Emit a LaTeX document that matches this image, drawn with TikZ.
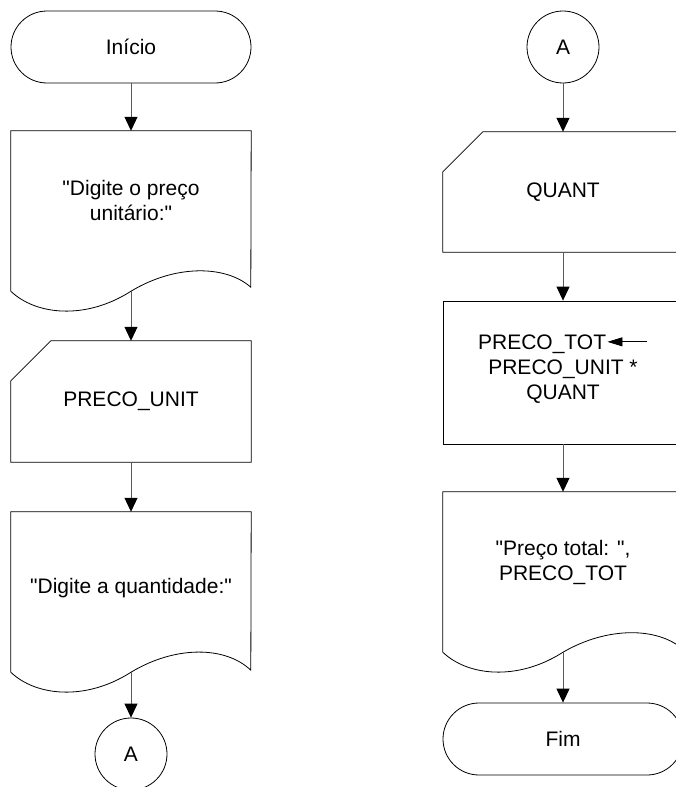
\documentclass[tikz,border=0pt]{standalone}
\usepackage{fontspec}
\setmainfont{Liberation Sans}[Ligatures=TeXOff]
\usetikzlibrary{arrows.meta,calc}
\newcommand\dfont{\fontsize{21}{25}\selectfont}
\begin{document}
\begin{tikzpicture}[x=1pt,y=-1pt,
  shp/.style={draw=black,line width=0.8pt},
  term/.style={shp,rectangle,rounded corners=36pt,minimum width=240pt,minimum height=72pt,inner sep=0pt,font=\dfont},
  conn/.style={shp,circle,minimum size=72pt,inner sep=0pt,font=\dfont},
  box/.style={rectangle,minimum width=240pt,inner sep=0pt,font=\dfont,align=center},
  txt/.style={font=\dfont,align=center,inner sep=0pt},
  flow/.style={draw=black!65,line width=1pt,-{Triangle[length=14pt,width=13pt,color=black]}},
]
\clip (0,0) rectangle (676,787);
\fill[white] (0,0) rectangle (676,787);

% ---------- left column ----------
\node[term] (ini) at (131,47) {Início};

\node[box,minimum height=160pt] (d1) at (131,211) {};
\draw[shp] (d1.south west) -- (d1.north west) -- (d1.north east) -- ($(d1.south west)+(240,-4)$)
  .. controls ($(d1.south west)+(215,-26)$) and ($(d1.south west)+(165,-27)$) .. (d1.south)
  .. controls ($(d1.south west)+(75,29)$) and ($(d1.south west)+(25,24)$) .. (d1.south west) -- cycle;
\node[txt] (t1) at (131,200) {"Digite o preço\\unitário:"};

\node[box,minimum height=121pt] (pu) at (131,401.5) {PRECO\_UNIT};
\draw[shp] ([xshift=40pt]pu.north west) -- (pu.north east) -- (pu.south east) -- (pu.south west) -- ([yshift=-40pt]pu.north west) -- cycle;

\node[box,minimum height=160pt] (d2) at (131,592) {};
\draw[shp] (d2.south west) -- (d2.north west) -- (d2.north east) -- ($(d2.south west)+(240,-2)$)
  .. controls ($(d2.south west)+(215,-26)$) and ($(d2.south west)+(165,-27)$) .. (d2.south)
  .. controls ($(d2.south west)+(75,29)$) and ($(d2.south west)+(25,24)$) .. (d2.south west) -- cycle;
\node[txt] (t2) at (131,588) {"Digite a quantidade:"};

\node[conn] (ca) at (131,754) {A};

\draw[flow] (ini) -- (d1);
\draw[flow] (d1) -- (pu);
\draw[flow] (pu) -- (d2);
\draw[flow] (d2) -- (ca);

% ---------- right column ----------
\node[conn] (cb) at (563,47) {A};

\node[box,minimum height=120pt] (qu) at (563,192) {QUANT};
\draw[shp] ([xshift=40pt]qu.north west) -- (qu.north east) -- (qu.south east) -- (qu.south west) -- ([yshift=-40pt]qu.north west) -- cycle;

\node[box,shp,minimum height=143pt] (pr) at (563,372.5) {};
\node[txt] (t3) at (563,369) {PRECO\_TOT\kern1pt\tikz[baseline]\draw[line width=0.8pt,-{Triangle[length=15pt,width=9pt]}] (40pt,7.5pt) -- (0pt,7.5pt);\\PRECO\_UNIT *\\QUANT};

\node[box,minimum height=160pt] (d3) at (563,572) {};
\draw[shp] (d3.south west) -- (d3.north west) -- (d3.north east) -- ($(d3.south west)+(240,-3)$)
  .. controls ($(d3.south west)+(215,-25)$) and ($(d3.south west)+(165,-26)$) .. (d3.south)
  .. controls ($(d3.south west)+(75,29)$) and ($(d3.south west)+(25,24)$) .. (d3.south west) -- cycle;
\node[txt] (t4) at (563,562) {"Preço total: ",\\PRECO\_TOT};

\node[term] (fim) at (563,739) {Fim};

\draw[flow] (cb) -- (qu);
\draw[flow] (qu) -- (pr);
\draw[flow] (pr) -- (d3);
\draw[flow] (d3) -- (fim);
\end{tikzpicture}
\end{document}
